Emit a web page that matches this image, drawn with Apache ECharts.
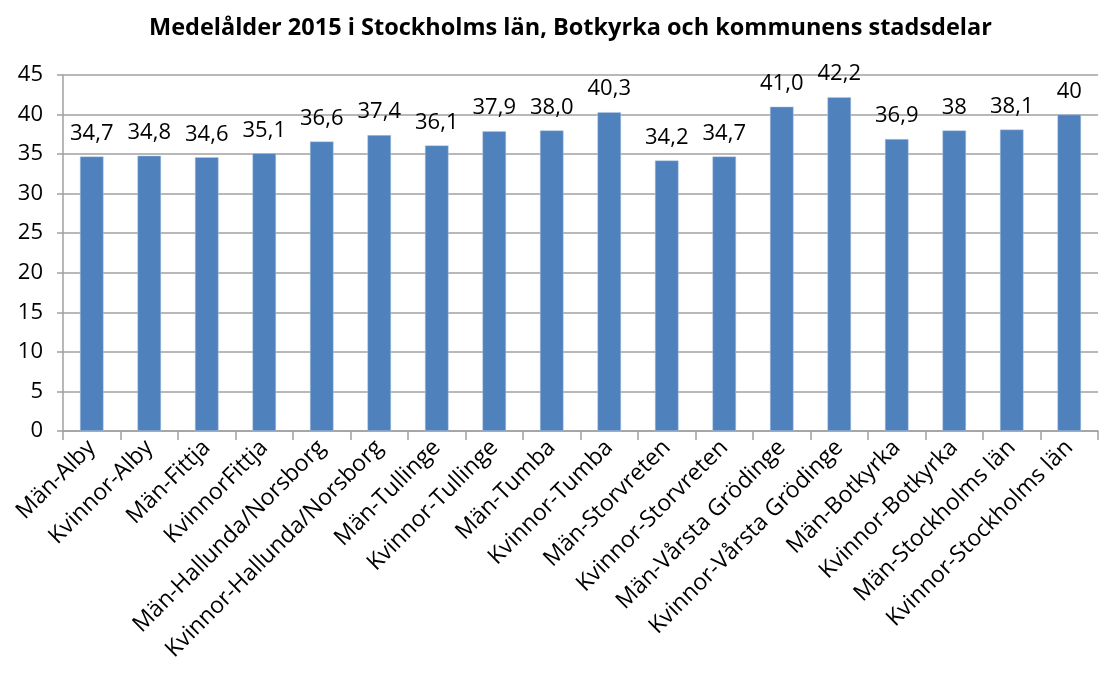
<!DOCTYPE html>
<html>
<head>
<meta charset="utf-8">
<script src="https://cdn.jsdelivr.net/npm/echarts@6/dist/echarts.min.js"></script>
<style>
  html, body { margin: 0; padding: 0; background: #fff; }
  #chart { width: 1104px; height: 675px; }
</style>
</head>
<body>
<div id="chart"></div>
<script>
// kategorier
const categories = ['Män-Alby', 'Kvinnor-Alby', 'Män-Fittja', 'KvinnorFittja',
  'Män-Hallunda/Norsborg', 'Kvinnor-Hallunda/Norsborg', 'Män-Tullinge', 'Kvinnor-Tullinge',
  'Män-Tumba', 'Kvinnor-Tumba', 'Män-Storvreten', 'Kvinnor-Storvreten',
  'Män-Vårsta Grödinge', 'Kvinnor-Vårsta Grödinge', 'Män-Botkyrka', 'Kvinnor-Botkyrka',
  'Män-Stockholms län', 'Kvinnor-Stockholms län'];
const values = [34.7, 34.8, 34.6, 35.1, 36.6, 37.4, 36.1, 37.9, 38.0, 40.3, 34.2, 34.7, 41.0, 42.2, 36.9, 38, 38.1, 40];
// etiketter som de står i originalet
const valueLabels = ['34,7', '34,8', '34,6', '35,1', '36,6', '37,4', '36,1', '37,9', '38,0', '40,3',
  '34,2', '34,7', '41,0', '42,2', '36,9', '38', '38,1', '40'];

const font = '"Open Sans", Lato, sans-serif';
const myChart = echarts.init(document.getElementById('chart'));
myChart.setOption({
  animation: false,
  title: {
    text: 'Medelålder 2015 i Stockholms län, Botkyrka och kommunens stadsdelar',
    left: 144,
    top: 11,
    textStyle: { fontFamily: font, fontSize: 23.5, fontWeight: 'bold', color: '#000' }
  },
  grid: { left: 63, right: 6, top: 75, bottom: 244, containLabel: false },
  xAxis: {
    type: 'category',
    data: categories,
    axisLine: { lineStyle: { color: '#a0a0a0', width: 1.5 } },
    axisTick: { show: true, length: 9, lineStyle: { color: '#a0a0a0', width: 1.5 } },
    axisLabel: { rotate: 45, interval: 0, margin: 13, fontFamily: font, fontSize: 23, color: '#000' }
  },
  yAxis: {
    type: 'value',
    min: 0,
    max: 45,
    interval: 5,
    axisLine: { show: true, lineStyle: { color: '#a0a0a0', width: 1.5 } },
    axisTick: { show: true, length: 6, lineStyle: { color: '#a0a0a0', width: 1.5 } },
    axisLabel: { margin: 20, fontFamily: font, fontSize: 22, color: '#000' },
    splitLine: { lineStyle: { color: '#a0a0a0', width: 1.5 } }
  },
  series: [{
    type: 'bar',
    data: values,
    barWidth: '41%',
    itemStyle: { color: '#4f81bd', borderColor: '#b9cde5', borderWidth: 0.5 },
    label: {
      show: true,
      position: 'top',
      distance: 12,
      fontFamily: font,
      fontSize: 22,
      color: '#000',
      formatter: function (p) { return valueLabels[p.dataIndex]; }
    }
  }]
});
</script>
</body>
</html>
